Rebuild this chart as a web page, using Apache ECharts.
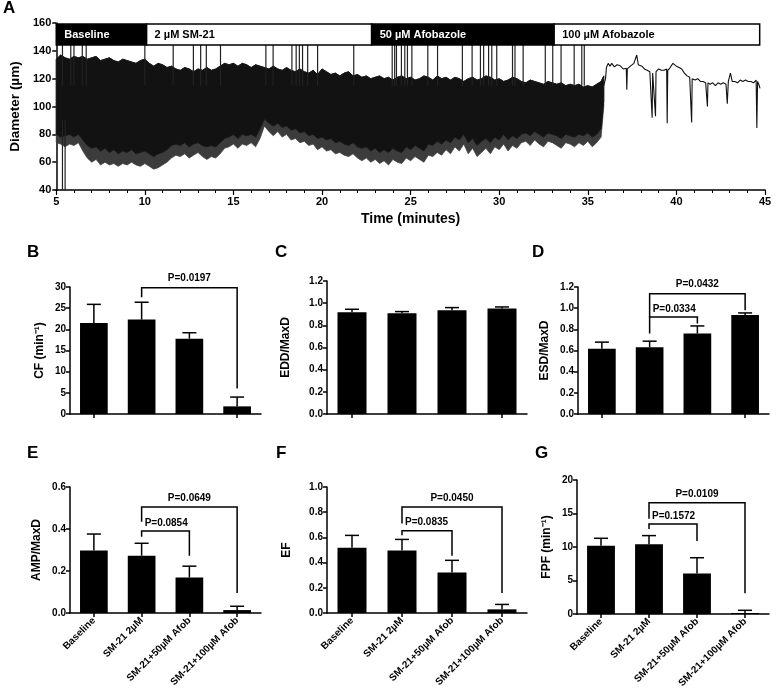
<!DOCTYPE html>
<html><head><meta charset="utf-8">
<script src="https://cdn.jsdelivr.net/npm/echarts@6/dist/echarts.min.js"></script>
<style>html,body{margin:0;padding:0;background:#fff}#c{width:781px;height:697px}</style>
</head><body><div id="c"></div>
<script>
const FONT = '"Liberation Sans", Arial, sans-serif';

// ---------- Panel A: diameter trace (envelope of the oscillating trace, read per 0.25 min) ----------
const traceTimes = [
  5.00,5.25,5.50,5.75, 6.00,6.25,6.50,6.75, 7.00,7.25,7.50,7.75, 8.00,8.25,8.50,8.75,
  9.00,9.25,9.50,9.75, 10.00,10.25,10.50,10.75, 11.00,11.25,11.50,11.75, 12.00,12.25,12.50,12.75,
  13.00,13.25,13.50,13.75, 14.00,14.25,14.50,14.75, 15.00,15.25,15.50,15.75, 16.00,16.25,16.50,16.75,
  17.00,17.25,17.50,17.75, 18.00,18.25,18.50,18.75, 19.00,19.25,19.50,19.75, 20.00,20.25,20.50,20.75,
  21.00,21.25,21.50,21.75, 22.00,22.25,22.50,22.75, 23.00,23.25,23.50,23.75, 24.00,24.25,24.50,24.75,
  25.00,25.25,25.50,25.75, 26.00,26.25,26.50,26.75, 27.00,27.25,27.50,27.75, 28.00,28.25,28.50,28.75,
  29.00,29.25,29.50,29.75, 30.00,30.25,30.50,30.75, 31.00,31.25,31.50,31.75, 32.00,32.25,32.50,32.75,
  33.00,33.25,33.50,33.75, 34.00,34.25,34.50,34.75, 35.00,35.25,35.50,35.75, 35.9];
const traceUpper = [
  134,137,135,134, 136,135,136,134, 135,136,133,134, 135,133,132,134,
  133,132,131,133, 134,131,129,131, 130,128,129,127, 126,128,127,125,
  127,126,128,126, 127,129,131,130, 131,129,131,130, 128,130,129,128,
  127,129,127,126, 128,126,125,127, 125,124,126,123, 127,125,123,124,
  122,124,125,122, 123,121,122,120, 121,122,120,121, 119,121,122,120,
  121,119,120,122, 121,119,122,120, 121,119,121,120, 118,120,121,119,
  120,122,121,119, 120,118,119,121, 120,118,117,119, 118,117,116,118,
  117,116,117,115, 116,115,116,114, 115,114,116,118, 122];
const traceLower = [
  74,73,71,73, 72,74,68,63, 60,62,58,60, 58,59,57,59,
  58,60,58,57, 59,57,55,56, 58,60,63,65, 64,66,63,65,
  67,64,62,64, 63,66,70,71, 73,70,73,72, 74,71,77,86,
  82,79,82,78, 80,76,77,74, 75,72,73,69, 71,68,69,66,
  67,65,64,66, 63,61,63,60, 62,59,61,58, 62,60,59,63,
  61,64,62,60, 65,64,67,65, 69,66,71,68, 73,66,70,64,
  67,70,66,71, 69,73,68,72, 70,74,75,72, 76,73,71,75,
  74,72,70,74, 73,71,74,72, 75,71,74,78, 100];
const traceCoreLower = [
  80,78,79,80, 78,80,76,72, 70,71,68,70, 67,69,66,68,
  67,69,66,67, 68,66,64,66, 67,69,72,73, 72,74,71,73,
  74,72,71,72, 71,74,77,78, 80,77,80,79, 80,78,84,91,
  88,86,88,85, 86,83,84,81, 82,79,80,77, 78,76,77,74,
  75,73,72,74, 71,70,71,68, 70,67,69,67, 70,68,67,71,
  69,72,70,68, 73,72,75,73, 76,74,78,76, 80,74,77,72,
  75,77,74,78, 76,80,76,79, 77,80,81,79, 82,80,78,81,
  80,79,77,80, 79,78,80,79, 81,78,80,84, 104];
const spikeUpTimes = [5.35,5.82,6.0,6.47,6.69,10.0,11.6,12.74,13.15,13.47,14.27,16.83,17.24,18.3,18.54,18.72,18.9,19.19,19.75,21.79,23.96,24.1,24.2,24.48,24.67,24.82,25.07,25.97,26.52,27.92,28.47,28.94,29.12,29.4,29.58,29.86,30.75,30.89,31.35,32.6,33.02,33.49,34.23,34.66,34.8];
const spikeDownTimes = [5.35,5.5];
const spikeDownValues = [40,40];
const recoveryTimes = [35.9,36.0,36.05,36.15,36.25,36.35,36.5,36.65,36.8,37.0,37.17,37.2,37.23,37.4,37.6,37.76,37.85,37.95,38.05,38.2,38.35,38.5,38.6,38.63,38.66,38.75,38.82,38.85,39.0,39.15,39.3,39.45,39.48,39.51,39.65,39.8,39.9,40.0,40.15,40.3,40.45,40.6,40.75,40.83,40.86,40.89,41.05,41.2,41.35,41.5,41.65,41.72,41.75,41.78,41.9,42.05,42.2,42.35,42.5,42.65,42.8,42.87,42.93,43.05,43.15,43.3,43.45,43.6,43.75,43.9,44.05,44.2,44.35,44.5,44.54,44.58,44.65,44.72];
const recoveryValues = [115,120,128,131,129,131,128.5,130,129.5,127,127.5,112,127,129,131,137,130,131,129,127,126,125,124,92,124,125,93,125,127,126,126,127,88,126,128,131,130,129,128,127,124,122,121,120,88.5,120,119,120,118,118,117,118,100,117,116,117,115,117,116,117,116,102,118,124,118,118,117,119,118,119,118,118,117,119,84.6,118,116,113];
const treatNames = ['Baseline','2 µM SM-21','50 µM Afobazole','100 µM Afobazole'];
const treatStart = [5, 10.1, 22.8, 33.1];
const treatEnd = [10.1, 22.8, 33.1, 44.7];
const treatDark = [true, false, true, false];

// ---------- Panels B-G ----------
const groups = ['Baseline','SM-21 2µM','SM-21+50µM Afob','SM-21+100µM Afob'];
const cfMean = [21.5, 22.3, 17.8, 1.8];   const cfSem = [4.4, 4.1, 1.4, 2.2];
const eddMean = [0.918, 0.909, 0.936, 0.951]; const eddSem = [0.027, 0.015, 0.024, 0.015];
const esdMean = [0.616, 0.631, 0.760, 0.936]; const esdSem = [0.063, 0.057, 0.072, 0.019];
const ampMean = [0.298, 0.273, 0.169, 0.014]; const ampSem = [0.078, 0.059, 0.054, 0.018];
const efMean = [0.518, 0.497, 0.321, 0.029];  const efSem = [0.098, 0.087, 0.097, 0.039];
const fpfMean = [10.2, 10.4, 6.06, 0.15];     const fpfSem = [1.1, 1.3, 2.34, 0.4];

// significance brackets: [fromGroup, toGroup, topValue, leftLegEnd, rightLegEnd]
const cfBrackets = [[1,3,29.85,27.6,6.05]];   const cfP = ['P=0.0197'];
const esdBrackets = [[1,3,1.137,0.917,0.98],[1,2,0.917,0.76,0.855]]; const esdP = ['P=0.0432','P=0.0334'];
const ampBrackets = [[1,3,0.505,0.434,0.095],[1,2,0.39,0.363,0.273]]; const ampP = ['P=0.0649','P=0.0854'];
const efBrackets = [[1,3,0.842,0.71,0.158],[1,2,0.653,0.618,0.455]];  const efP = ['P=0.0450','P=0.0835'];
const fpfBrackets = [[1,3,16.6,14.2,3.1],[1,2,13.45,12.7,10.9]];     const fpfP = ['P=0.0109','P=0.1572'];

const chart = echarts.init(document.getElementById('c'), null, {renderer:'canvas'});

const grids = [
  {left:47, top:23, width:718, height:167},
  {left:70, top:287, width:191, height:127},
  {left:327, top:281, width:200, height:133},
  {left:578, top:287, width:191, height:127},
  {left:70, top:487, width:191, height:126},
  {left:327, top:487, width:200, height:126},
  {left:577, top:480, width:192, height:134}
];

const axLine = {show:true, lineStyle:{color:'#000', width:1.5}};
const axTick = {show:true, inside:false, length:4, lineStyle:{color:'#000', width:1.5}};
const lab = {color:'#000', fontFamily:FONT, fontWeight:'bold', fontSize:10};
const nameStyle = {color:'#000', fontFamily:FONT, fontWeight:'bold', fontSize:12};

const xAxes = [{
  gridIndex:0, type:'value', min:5, max:45, interval:5,
  axisLine:axLine, axisTick:{show:true, length:5, lineStyle:{color:'#000', width:1.2}},
  minorTick:{show:true, splitNumber:5, length:3, lineStyle:{color:'#000', width:1}},
  splitLine:{show:false}, axisLabel:Object.assign({}, lab, {fontSize:11, margin:6}),
  name:'Time (minutes)', nameLocation:'middle', nameGap:22,
  nameTextStyle:Object.assign({}, nameStyle, {fontSize:14})
}];
const yAxes = [{
  gridIndex:0, type:'value', min:40, max:160, interval:20,
  axisLine:axLine, axisTick:axTick, splitLine:{show:false},
  axisLabel:Object.assign({}, lab, {fontSize:11, margin:5}),
  name:'Diameter (µm)', nameLocation:'middle', nameGap:31, nameRotate:90,
  nameTextStyle:Object.assign({}, nameStyle, {fontSize:13.5})
}];

const panels = [
  {mean:cfMean, sem:cfSem, br:cfBrackets, p:cfP, min:0, max:30, iv:5, dec:0, name:'CF (min⁻¹)', gap:24, labels:false},
  {mean:eddMean, sem:eddSem, br:[], p:[], min:0, max:1.2, iv:0.2, dec:1, name:'EDD/MaxD', gap:35, labels:false},
  {mean:esdMean, sem:esdSem, br:esdBrackets, p:esdP, min:0, max:1.2, iv:0.2, dec:1, name:'ESD/MaxD', gap:27, labels:false},
  {mean:ampMean, sem:ampSem, br:ampBrackets, p:ampP, min:0, max:0.6, iv:0.2, dec:1, name:'AMP/MaxD', gap:27, labels:true},
  {mean:efMean, sem:efSem, br:efBrackets, p:efP, min:0, max:1.0, iv:0.2, dec:1, name:'EF', gap:34, labels:true},
  {mean:fpfMean, sem:fpfSem, br:fpfBrackets, p:fpfP, min:0, max:20, iv:5, dec:0, name:'FPF (min⁻¹)', gap:24, labels:true}
];

const series = [];

function bandPolygon(api, upperArr, lowerArr) {
  const pts = [];
  for (let i=0;i<traceTimes.length;i++) pts.push(api.coord([traceTimes[i], upperArr[i]]));
  for (let i=traceTimes.length-1;i>=0;i--) pts.push(api.coord([traceTimes[i], lowerArr[i]]));
  return pts;
}

// Panel A series: grey outer fringe, black core, spikes, recovery trace, treatment boxes
series.push({
  type:'custom', xAxisIndex:0, yAxisIndex:0, z:2, silent:true,
  data: traceTimes.map((t,i)=>[t, traceLower[i], traceCoreLower[i], traceUpper[i]]),
  renderItem: function(params, api){
    if (params.dataIndex !== 0) return null;
    return {type:'group', children:[
      {type:'polygon', shape:{points:bandPolygon(api, traceUpper, traceLower)}, style:{fill:'#3c3c3c', stroke:'#444', lineWidth:0.8}},
      {type:'polygon', shape:{points:bandPolygon(api, traceUpper, traceCoreLower)}, style:{fill:'#121212', stroke:'#1a1a1a', lineWidth:1}}
    ]};
  }
});
series.push({
  type:'custom', xAxisIndex:0, yAxisIndex:0, z:3, silent:true, clip:true,
  data: spikeUpTimes.map(t=>[t, 115, 152]).concat(spikeDownTimes.map((t,i)=>[t, 90, spikeDownValues[i]])),
  renderItem: function(params, api){
    const a = api.coord([api.value(0), api.value(1)]);
    const b = api.coord([api.value(0), api.value(2)]);
    return {type:'line', shape:{x1:a[0], y1:a[1], x2:b[0], y2:b[1]}, style:{stroke:'#222', lineWidth:1.2}};
  }
});
series.push({
  type:'line', xAxisIndex:0, yAxisIndex:0, z:3, silent:true, showSymbol:false,
  data: recoveryTimes.map((t,i)=>[t, recoveryValues[i]]),
  lineStyle:{color:'#111', width:1.1}
});
series.push({
  type:'custom', xAxisIndex:0, yAxisIndex:0, z:10, silent:true, clip:false,
  data: treatNames.map((n,i)=>[treatStart[i], treatEnd[i], i]),
  renderItem: function(params, api){
    const i = params.dataIndex;
    const p0 = api.coord([api.value(0), 160]);
    const p1 = api.coord([api.value(1), 144.2]);
    const dark = treatDark[i];
    return {type:'group', children:[
      {type:'rect', shape:{x:p0[0], y:p0[1]+1, width:p1[0]-p0[0], height:p1[1]-p0[1]-1},
       style:{fill: dark ? '#000' : '#fff', stroke:'#000', lineWidth:1.5}},
      {type:'text', x:p0[0]+8, y:(p0[1]+p1[1])/2+0.5,
       style:{text:treatNames[i], fill: dark ? '#fff' : '#000', font:'bold 11px '+FONT, verticalAlign:'middle', align:'left'}}
    ]};
  }
});

panels.forEach((pn, k)=>{
  const gi = k+1;
  xAxes.push({
    gridIndex:gi, type:'category', data:groups, boundaryGap:true,
    axisLine:axLine, axisTick:{show:true, alignWithLabel:true, length:4, lineStyle:{color:'#000', width:1.5}},
    axisLabel: pn.labels ? Object.assign({}, lab, {rotate:45, margin:6, interval:0}) : {show:false},
    splitLine:{show:false}
  });
  yAxes.push({
    gridIndex:gi, type:'value', min:pn.min, max:pn.max, interval:pn.iv,
    axisLine:axLine, axisTick:axTick, splitLine:{show:false},
    axisLabel:Object.assign({}, lab, {margin:4, formatter:v=>v.toFixed(pn.dec)}),
    name:pn.name, nameLocation:'middle', nameRotate:90, nameGap:pn.gap, nameTextStyle:nameStyle
  });
  series.push({
    type:'bar', xAxisIndex:gi, yAxisIndex:gi, data:pn.mean, barWidth:'58%',
    itemStyle:{color:'#000'}, silent:true, z:2
  });
  series.push({
    type:'custom', xAxisIndex:gi, yAxisIndex:gi, silent:true, z:3,
    data: pn.mean.map((m,i)=>[i, m, m+pn.sem[i]]),
    renderItem: function(params, api){
      const a = api.coord([api.value(0), api.value(1)]);
      const b = api.coord([api.value(0), api.value(2)]);
      return {type:'group', children:[
        {type:'line', shape:{x1:a[0], y1:a[1], x2:b[0], y2:b[1]}, style:{stroke:'#000', lineWidth:1.5}},
        {type:'line', shape:{x1:b[0]-7, y1:b[1], x2:b[0]+7, y2:b[1]}, style:{stroke:'#000', lineWidth:1.5}}
      ]};
    }
  });
  if (pn.br.length) {
    series.push({
      type:'custom', xAxisIndex:gi, yAxisIndex:gi, silent:true, z:4, clip:false,
      data: pn.br,
      renderItem: function(params, api){
        const d = pn.br[params.dataIndex];
        const l0 = api.coord([d[0], d[3]]), l1 = api.coord([d[0], d[2]]);
        const r1 = api.coord([d[1], d[2]]), r0 = api.coord([d[1], d[4]]);
        const outer = params.dataIndex === 0 && (d[1]-d[0]) > 1;
        const txt = outer
          ? {type:'text', x:(l1[0]+r1[0])/2, y:l1[1]-4, style:{text:pn.p[params.dataIndex], fill:'#000', font:'bold 10px '+FONT, align:'center', verticalAlign:'bottom'}}
          : {type:'text', x:l1[0]+3, y:l1[1]-3, style:{text:pn.p[params.dataIndex], fill:'#000', font:'bold 10px '+FONT, align:'left', verticalAlign:'bottom'}};
        return {type:'group', children:[
          {type:'polyline', shape:{points:[l0,l1,r1,r0]}, style:{stroke:'#000', lineWidth:1.5, fill:null}},
          txt
        ]};
      }
    });
  }
});

const letters = [['A',3,0],['B',27,244],['C',275,244],['D',532,244],['E',27,445],['F',276,445],['G',535,445]];

chart.setOption({
  animation:false,
  backgroundColor:'#fff',
  grid:grids,
  xAxis:xAxes,
  yAxis:yAxes,
  series:series,
  graphic: letters.map(l=>({type:'text', left:l[1], top:l[2], style:{text:l[0], font:'bold 17px '+FONT, fill:'#000'}}))
});
</script>
</body></html>
